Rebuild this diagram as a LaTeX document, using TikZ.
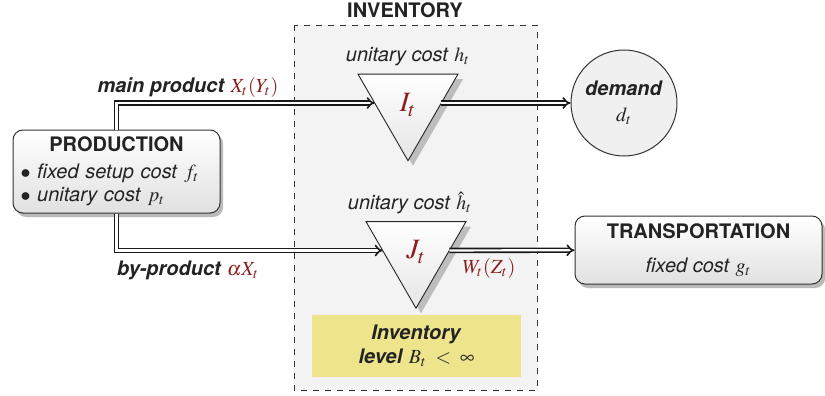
\documentclass[tikz,border=0pt]{standalone}
\usepackage{mathptmx}
\usepackage[no-math]{fontspec}
\setmainfont{TeX Gyre Heros}
\usetikzlibrary{arrows.meta,shapes.geometric,shadows,backgrounds}
\definecolor{mred}{RGB}{140,28,28}
\definecolor{txt}{RGB}{35,35,35}
\definecolor{invfill}{RGB}{243,243,243}
\definecolor{yel}{RGB}{237,228,140}
\begin{document}
\begin{tikzpicture}[x=0.5pt,y=-0.5pt,font=\fontsize{10}{12}\selectfont,text=txt,
  boxstyle/.style={draw=black!80,line width=0.5pt,rounded corners=5pt,
    top color=white,bottom color=black!12,
    drop shadow={shadow xshift=1.6pt,shadow yshift=-2pt,fill=black!45,opacity=0.6}},
  tri/.style={regular polygon,regular polygon sides=3,shape border rotate=180,
    minimum size=57.7pt,inner sep=0pt,outer sep=0pt,draw=black!85,line width=0.45pt,
    top color=white,bottom color=black!10,
    drop shadow={shadow xshift=2.5pt,shadow yshift=-2.5pt,fill=black!40,opacity=0.6}},
  dbl/.style={draw=black!90,line width=0.8pt,double=white,double distance=1.1pt,
    -{Implies[length=4pt,width=7pt]}},
  lbl/.style={inner sep=0pt},
  big/.style={font=\fontsize{14}{16}\selectfont,text=mred}]
\useasboundingbox (0,0) rectangle (825,396);
% inventory region
\node[lbl,font=\fontsize{10}{12}\selectfont\bfseries] (invtitle) at (405,10) {INVENTORY};
\path[draw=black!80,dashed,line width=0.5pt,fill=invfill] (294,25) rectangle (537,390);
% yellow box
\node[fill=yel,minimum width=104.5pt,minimum height=31pt,inner sep=0pt,align=center,
  font=\fontsize{10}{13}\selectfont] (level) at (416.5,346)
  {\textbf{\textit{Inventory}}\\[-1pt]\textbf{\textit{level}} $B_t\;<\;\infty$};
% nodes
\node[boxstyle,minimum width=103.5pt,minimum height=41.5pt,text width=96pt,inner sep=2pt,
  font=\fontsize{10}{11.5}\selectfont] (prod) at (116.5,171.5)
  {{\centering\textbf{PRODUCTION}\par}\vspace{2pt}
   $\bullet$\ \textit{fixed setup cost} $f_t$\par
   $\bullet$\ \textit{unitary cost} $p_t$};
\node[tri] (It) at (408,103) {};
\node[lbl,big] (Itlab) at (408,105) {$I_t$};
\node[tri] (Jt) at (416,250.5) {};
\node[lbl,big] (Jtlab) at (416,252) {$J_t$};
\node[circle,draw=black!80,line width=0.5pt,fill=black!6,minimum size=53pt,inner sep=0pt,
  align=center] (dem) at (624,103) {\textbf{\textit{demand}}\\[1pt]$d_t$};
\node[boxstyle,minimum width=123.5pt,minimum height=34pt,align=center,inner sep=2pt,
  font=\fontsize{10}{17}\selectfont] (trans) at (698.5,250)
  {\textbf{TRANSPORTATION}\\\textit{fixed cost} $g_t$};
% labels
\node[lbl] (hlab) at (408,57) {\textit{unitary cost} $h_t$};
\node[lbl] (hhlab) at (410,203) {\textit{unitary cost} $\hat{h}_t$};
\node[lbl] (mainlab) at (188,87) {\textbf{\textit{main product}} \textcolor{mred}{$X_t(Y_t)$}};
\node[lbl] (bylab) at (188,270) {\textbf{\textit{by-product}} \textcolor{mred}{$\alpha X_t$}};
\node[lbl,text=mred] (wlab) at (489,268) {$W_t(Z_t)$};
% connectors
\draw[dbl] (prod.north) |- (It);
\draw[dbl] (prod.south) |- (Jt);
\draw[dbl] (It) -- (dem);
\draw[dbl] (Jt) -- (trans);
\end{tikzpicture}
\end{document}
